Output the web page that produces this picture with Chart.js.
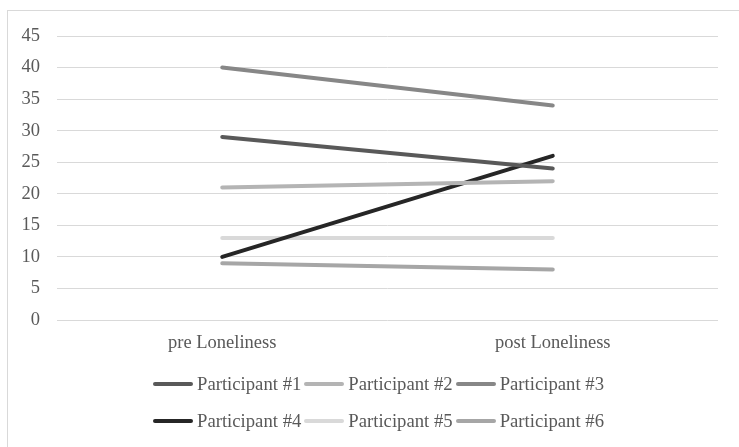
<!DOCTYPE html>
<html>
<head>
<meta charset="utf-8">
<script src="https://cdn.jsdelivr.net/npm/chart.js@4"></script>
<style>
  html, body { margin: 0; padding: 0; background: #ffffff; }
  #wrap { position: relative; width: 739px; height: 447px; overflow: hidden; }
  #frame { position: absolute; left: 7px; top: 10px; width: 800px; height: 500px; border: 1px solid #d9d9d9; box-sizing: border-box; }
  #chart { position: absolute; left: 0; top: 0; }
  #legend { position: absolute; left: 153px; top: 365px; font-family: "Liberation Serif", "Times New Roman", serif; font-size: 18.7px; color: #595959; }
  .row { display: flex; align-items: center; height: 37px; }
  .item { display: flex; align-items: center; margin-right: 3px; white-space: nowrap; }
  .swatch { width: 40px; height: 4px; border-radius: 2px; margin-right: 4px; }
</style>
</head>
<body>
<div id="wrap">
  <div id="frame"></div>
  <canvas id="chart" width="739" height="447"></canvas>
  <div id="legend"></div>
</div>
<script>
// Loneliness scores before and after, one line per participant
const categories = ["pre Loneliness", "post Loneliness"];
const seriesNames = ["Participant #1", "Participant #2", "Participant #3", "Participant #4", "Participant #5", "Participant #6"];
const participant1 = [29, 24];
const participant2 = [21, 22];
const participant3 = [40, 34];
const participant4 = [10, 26];
const participant5 = [13, 13];
const participant6 = [9, 8];
const yTicks = [0, 5, 10, 15, 20, 25, 30, 35, 40, 45];

const seriesValues = [participant1, participant2, participant3, participant4, participant5, participant6];
const seriesColors = ["#595959", "#b4b4b4", "#878787", "#262626", "#d9d9d9", "#a6a6a6"];

const FONT = { family: '"Liberation Serif", "Times New Roman", serif', size: 18.5 };

const datasets = seriesNames.map((name, i) => ({
  label: name,
  data: seriesValues[i],
  borderColor: seriesColors[i],
  backgroundColor: seriesColors[i],
  borderWidth: 4,
  borderCapStyle: 'round',
  pointRadius: 0,
  pointHoverRadius: 0,
  tension: 0,
  fill: false
}));

new Chart(document.getElementById('chart'), {
  type: 'line',
  data: { labels: categories, datasets },
  options: {
    responsive: false,
    animation: false,
    events: [],
    layout: { padding: { top: 36, right: 21, left: 0, bottom: 0 } },
    plugins: { legend: { display: false }, tooltip: { enabled: false } },
    scales: {
      x: {
        offset: true,
        grid: { display: false, drawTicks: false },
        border: { display: false },
        ticks: { color: '#595959', font: FONT, padding: 12 },
        afterFit: (scale) => { scale.height = 127; }
      },
      y: {
        min: 0,
        max: 45,
        afterBuildTicks: (scale) => { scale.ticks = yTicks.map(v => ({ value: v })); },
        grid: { color: '#d9d9d9', lineWidth: 1, drawTicks: false },
        border: { display: false },
        ticks: { color: '#595959', font: FONT, padding: 17 },
        afterFit: (scale) => { scale.width = 57; }
      }
    }
  }
});

// Legend: two rows of three entries
const legend = document.getElementById('legend');
for (let r = 0; r < 2; r++) {
  const row = document.createElement('div');
  row.className = 'row';
  for (let c = 0; c < 3; c++) {
    const i = r * 3 + c;
    const item = document.createElement('div');
    item.className = 'item';
    const sw = document.createElement('span');
    sw.className = 'swatch';
    sw.style.background = seriesColors[i];
    const tx = document.createElement('span');
    tx.textContent = seriesNames[i];
    item.appendChild(sw);
    item.appendChild(tx);
    row.appendChild(item);
  }
  legend.appendChild(row);
}
</script>
</body>
</html>
